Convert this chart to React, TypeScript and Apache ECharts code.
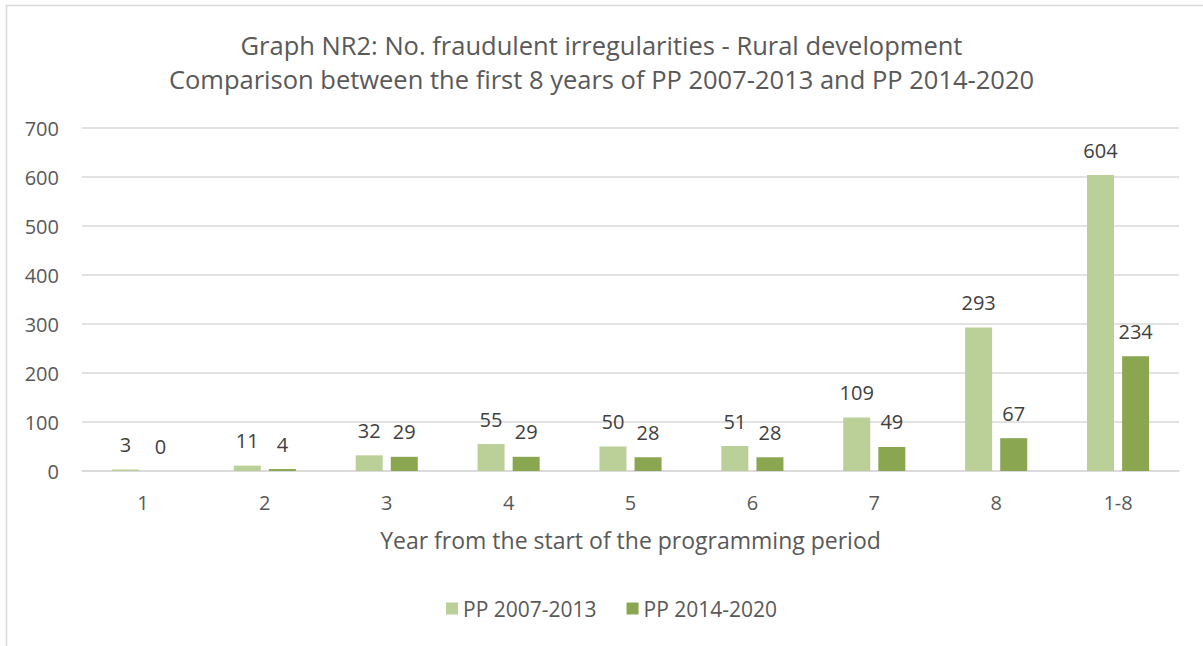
import React, { useEffect, useRef } from "react";
import * as echarts from "echarts";

const categories = ["1", "2", "3", "4", "5", "6", "7", "8", "1-8"];
const series2007 = [3, 11, 32, 55, 50, 51, 109, 293, 604];
const series2014 = [0, 4, 29, 29, 28, 28, 49, 67, 234];
const seriesNames = ["PP 2007-2013", "PP 2014-2020"];
const titleLines = [
  "Graph NR2: No. fraudulent irregularities - Rural development",
  "Comparison between the first 8 years of PP 2007-2013 and PP 2014-2020",
];
const xAxisName = "Year from the start of the programming period";

const FONT = "'Open Sans', 'Noto Sans', sans-serif";

export default function App() {
  const ref = useRef<HTMLDivElement>(null);
  useEffect(() => {
    if (!ref.current) return;
    const chart = echarts.init(ref.current, undefined, { renderer: "svg" });
    const labelStyle = {
      show: true,
      position: "top" as const,
      distance: 15,
      color: "#404040",
      fontSize: 20,
      fontFamily: FONT,
    };
    chart.setOption({
      animation: false,
      backgroundColor: "#ffffff",
      textStyle: { fontFamily: FONT },
      title: {
        text: titleLines.join("\n"),
        left: "center",
        top: 23,
        textStyle: {
          color: "#595959",
          fontSize: 25.5,
          fontWeight: "normal",
          fontFamily: FONT,
          lineHeight: 34,
        },
      },
      graphic: [
        {
          type: "rect",
          shape: { x: 6.5, y: 5.5, width: 1220, height: 700 },
          style: { fill: "none", stroke: "#d9d9d9", lineWidth: 1.5 },
          silent: true,
        },
      ],
      legend: {
        bottom: 22,
        left: 441,
        itemWidth: 12,
        itemHeight: 12,
        itemGap: 30,
        icon: "rect",
        textStyle: { color: "#595959", fontSize: 21, fontFamily: FONT },
        data: seriesNames,
      },
      grid: { left: 82, right: 24, top: 128, bottom: 175 },
      xAxis: {
        type: "category",
        data: categories,
        name: xAxisName,
        nameLocation: "middle",
        nameGap: 57,
        nameTextStyle: { color: "#595959", fontSize: 23, fontFamily: FONT },
        axisLine: { lineStyle: { color: "#d9d9d9", width: 1.5 } },
        axisTick: { show: false },
        axisLabel: { color: "#595959", fontSize: 20, margin: 21, fontFamily: FONT },
      },
      yAxis: {
        type: "value",
        min: 0,
        max: 700,
        interval: 100,
        axisLine: { show: false },
        axisTick: { show: false },
        axisLabel: { color: "#595959", fontSize: 20, margin: 23, fontFamily: FONT },
        splitLine: { lineStyle: { color: "#d9d9d9", width: 1.5 } },
      },
      series: [
        {
          name: seriesNames[0],
          type: "bar",
          data: series2007,
          barWidth: 27,
          barGap: "30%",
          itemStyle: { color: "#bbcf98" },
          label: labelStyle,
        },
        {
          name: seriesNames[1],
          type: "bar",
          data: series2014,
          barWidth: 27,
          barGap: "30%",
          itemStyle: { color: "#8aa650" },
          label: labelStyle,
        },
      ],
    });
    return () => chart.dispose();
  }, []);
  return (
    <div
      ref={ref}
      style={{ position: "fixed", left: 0, top: 0, width: 1203, height: 646 }}
    />
  );
}
